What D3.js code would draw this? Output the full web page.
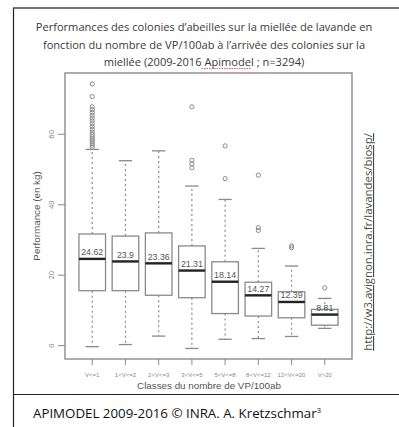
<!DOCTYPE html>
<html>
<head>
<meta charset="utf-8">
<script src="https://cdn.jsdelivr.net/npm/d3@7"></script>
<style>
  html, body { margin: 0; padding: 0; background: #fff; }
  svg { display: block; }
</style>
</head>
<body>
<svg id="chart" width="399" height="427"></svg>
<script>
// Classes of varroa load (VP per 100 bees) at arrival on the lavender flow
const classes = ["V<=1", "1<V<=2", "2<V<=3", "3<V<=5", "5<V<=8", "8<V<=12", "12<V<=20", "V>20"];
// Box statistics per class (kg)
const lowerWhisker = [-0.3, 0.3, 2.7, -0.8, 1.8, 2.0, 2.6, 4.9];
const q1           = [15.6, 15.6, 14.3, 13.6, 9.1, 8.4, 7.9, 5.8];
const medians      = [24.62, 23.9, 23.36, 21.31, 18.14, 14.27, 12.39, 8.81];
const q3           = [31.7, 31.1, 32.0, 28.3, 23.8, 18.0, 15.3, 10.3];
const upperWhisker = [55.7, 52.5, 55.3, 45.3, 41.5, 27.6, 22.6, 13.4];
const outliers = [
  [74.3, 70.7, 67.8, 67.0, 66.2, 65.4, 64.6, 63.8, 63.0, 62.2, 61.4, 60.6, 59.9, 59.3, 58.7, 58.1, 57.5, 56.9, 56.3],
  [],
  [],
  [67.8, 52.6, 51.6, 50.5],
  [56.7, 47.4],
  [48.4, 33.5, 32.7],
  [28.3, 27.8],
  [16.4]
];
const yTicks = [0, 20, 40, 60];

const svg = d3.select("#chart");
const grey = "#8a8a8a";
const textGrey = "#555";

// Page frame lines
svg.append("line").attr("x1", 13.5).attr("x2", 13.5).attr("y1", 8).attr("y2", 427)
  .attr("stroke", "#222").attr("stroke-width", 1.2);
svg.append("line").attr("x1", 13).attr("x2", 399).attr("y1", 8).attr("y2", 8)
  .attr("stroke", "#444").attr("stroke-width", 1.6);
svg.append("line").attr("x1", 13).attr("x2", 399).attr("y1", 394.5).attr("y2", 394.5)
  .attr("stroke", "#222").attr("stroke-width", 1.2);

// Title
const titleLines = [
  "Performances des colonies d’abeilles sur la miellée de lavande en",
  "fonction du nombre de VP/100ab à l’arrivée des colonies sur la"
];
const title = svg.append("g").attr("font-family", "'Open Sans', sans-serif")
  .attr("font-size", 11.1).attr("fill", "#3a3a3a").attr("text-anchor", "middle");
titleLines.forEach((t, i) => {
  title.append("text").attr("x", 204).attr("y", 31 + i * 17.5).text(t);
});
const t3 = title.append("text").attr("x", 204).attr("y", 66);
t3.append("tspan").text("miellée (2009-2016 ");
t3.append("tspan").text("Apimodel");
t3.append("tspan").text(" ; n=3294)");
// spell-check style underline below "Apimodel"
{
  const n = t3.node();
  const start = n.getStartPositionOfChar(18);
  const end = n.getEndPositionOfChar(25);
  svg.append("line").attr("x1", start.x).attr("x2", end.x)
    .attr("y1", 68.5).attr("y2", 68.5)
    .attr("stroke", "#e06060").attr("stroke-width", 1).attr("stroke-dasharray", "1.5,1");
}

// Plot region
const plot = { left: 65, right: 352, top: 73, bottom: 359 };
const x = d3.scaleLinear().domain([0.18, 8.82]).range([plot.left, plot.right]);
const y = d3.scaleLinear().domain([-3.8, 77.4]).range([plot.bottom, plot.top]);
const boxW = (x(1.4) - x(1));   // half width of a box
const capW = boxW / 2;

const g = svg.append("g");

classes.forEach((c, i) => {
  const cx = x(i + 1);
  // whiskers
  g.append("line").attr("x1", cx).attr("x2", cx)
    .attr("y1", y(q3[i])).attr("y2", y(upperWhisker[i]))
    .attr("stroke", grey).attr("stroke-width", 1.2).attr("stroke-dasharray", "2,3");
  g.append("line").attr("x1", cx).attr("x2", cx)
    .attr("y1", y(q1[i])).attr("y2", y(lowerWhisker[i]))
    .attr("stroke", grey).attr("stroke-width", 1.2).attr("stroke-dasharray", "2,3");
  // caps
  [upperWhisker[i], lowerWhisker[i]].forEach(v => {
    g.append("line").attr("x1", cx - capW).attr("x2", cx + capW)
      .attr("y1", y(v)).attr("y2", y(v))
      .attr("stroke", grey).attr("stroke-width", 1.3);
  });
  // box
  g.append("rect").attr("x", cx - boxW).attr("width", 2 * boxW)
    .attr("y", y(q3[i])).attr("height", y(q1[i]) - y(q3[i]))
    .attr("fill", "#fff").attr("stroke", grey).attr("stroke-width", 1.3);
  // median
  g.append("line").attr("x1", cx - boxW).attr("x2", cx + boxW)
    .attr("y1", y(medians[i])).attr("y2", y(medians[i]))
    .attr("stroke", "#222").attr("stroke-width", 2.4);
  // outliers
  outliers[i].forEach(v => {
    g.append("circle").attr("cx", cx).attr("cy", y(v)).attr("r", 2.1)
      .attr("fill", "none").attr("stroke", grey).attr("stroke-width", 1);
  });
  // value label
  g.append("text").attr("x", cx).attr("y", y(medians[i]) - 3.5)
    .attr("text-anchor", "middle").attr("font-family", "'Liberation Sans', Arial, sans-serif")
    .attr("font-size", 8.8).attr("fill", "#555").text(medians[i]);
});

// Plot frame
svg.append("rect").attr("x", plot.left).attr("y", plot.top)
  .attr("width", plot.right - plot.left).attr("height", plot.bottom - plot.top)
  .attr("fill", "none").attr("stroke", grey).attr("stroke-width", 1.4);

// Y axis (ticks outward, labels rotated)
const yAxis = svg.append("g");
yTicks.forEach(t => {
  yAxis.append("line").attr("x1", plot.left - 7).attr("x2", plot.left)
    .attr("y1", y(t)).attr("y2", y(t)).attr("stroke", grey).attr("stroke-width", 1);
  yAxis.append("text").attr("transform", `translate(${plot.left - 11},${y(t)}) rotate(-90)`)
    .attr("text-anchor", "middle").attr("font-family", "'Liberation Sans', Arial, sans-serif")
    .attr("font-size", 7.8).attr("fill", "#888").text(t);
});
svg.append("text").attr("transform", `translate(40,${(plot.top + plot.bottom) / 2}) rotate(-90)`)
  .attr("text-anchor", "middle").attr("font-family", "'Liberation Sans', Arial, sans-serif")
  .attr("font-size", 9.8).attr("fill", textGrey).text("Performance (en kg)");

// X axis
classes.forEach((c, i) => {
  const cx = x(i + 1);
  svg.append("line").attr("x1", cx).attr("x2", cx).attr("y1", plot.bottom).attr("y2", plot.bottom + 6)
    .attr("stroke", grey).attr("stroke-width", 1);
  svg.append("text").attr("x", cx).attr("y", 376.5).attr("text-anchor", "middle")
    .attr("font-family", "'Liberation Sans', Arial, sans-serif")
    .attr("font-size", 6).attr("fill", "#888").text(c);
});
svg.append("text").attr("x", 209).attr("y", 389).attr("text-anchor", "middle")
  .attr("font-family", "'Liberation Sans', Arial, sans-serif")
  .attr("font-size", 9.8).attr("fill", textGrey).text("Classes du nombre de VP/100ab");

// Source URL (vertical, underlined)
svg.append("text").attr("transform", "translate(372,242) rotate(-90)")
  .attr("text-anchor", "middle").attr("font-family", "'Open Sans', sans-serif")
  .attr("font-size", 11.4).attr("fill", "#4a4a4a").attr("text-decoration", "underline")
  .text("http://w3.avignon.inra.fr/lavandes/biosp/");

// Footer credit
const foot = svg.append("text").attr("x", 33).attr("y", 418)
  .attr("font-family", "'Open Sans', sans-serif").attr("font-size", 13.3).attr("fill", "#111");
foot.append("tspan").text("APIMODEL 2009-2016 © INRA. A. Kretzschmar");
foot.append("tspan").attr("font-size", 8).attr("dy", -5).text("3");
</script>
</body>
</html>
